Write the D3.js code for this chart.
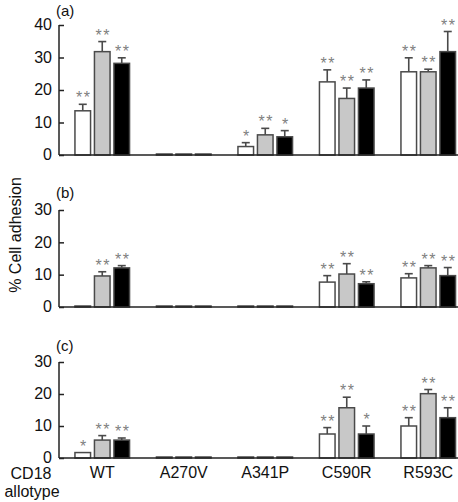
<!DOCTYPE html>
<html><head><meta charset="utf-8">
<script src="https://cdn.jsdelivr.net/npm/d3@7"></script>
<style>body{margin:0;background:#fff}svg{display:block}text{font-family:"Liberation Sans",Arial,sans-serif}</style>
</head><body>
<svg id="c" width="458" height="502"></svg>
<script>
const categories = ["WT","A270V","A341P","C590R","R593C"];
const seriesNames = ["white","grey","black"];

// Panel (a)
const aWhite = [13.6, 0, 2.6, 22.5, 25.6];
const aWhiteErr = [2.0, 0, 1.2, 3.7, 4.3];
const aGrey = [31.8, 0, 6.2, 17.4, 25.6];
const aGreyErr = [3.1, 0, 2.0, 3.2, 0.8];
const aBlack = [28.2, 0, 5.6, 20.6, 31.8];
const aBlackErr = [1.7, 0, 1.9, 2.5, 6.2];
const aStars = [["**","**","**"],["","",""],["*","**","*"],["**","**","**"],["**","**","**"]];
const aTicks = [0,10,20,30,40];

// Panel (b)
const bWhite = [0, 0, 0, 7.7, 9.0];
const bWhiteErr = [0, 0, 0, 2.0, 1.3];
const bGrey = [9.6, 0, 0, 10.2, 12.1];
const bGreyErr = [1.3, 0, 0, 3.2, 0.7];
const bBlack = [12.1, 0, 0, 7.2, 9.7];
const bBlackErr = [0.7, 0, 0, 0.6, 2.5];
const bStars = [["","**","**"],["","",""],["","",""],["**","**","**"],["**","**","**"]];
const bTicks = [0,10,20,30];

// Panel (c)
const cWhite = [1.7, 0, 0, 7.5, 10.0];
const cWhiteErr = [0, 0, 0, 2.0, 2.6];
const cGrey = [5.6, 0, 0, 15.7, 20.1];
const cGreyErr = [1.4, 0, 0, 3.3, 1.3];
const cBlack = [5.6, 0, 0, 7.5, 12.6];
const cBlackErr = [0.65, 0, 0, 2.5, 3.1];
const cStars = [["*","**","**"],["","",""],["","",""],["**","**","*"],["**","**","**"]];
const cTicks = [0,10,20,30];

const fills = {white:"#ffffff", grey:"#c8c8c8", black:"#000000"};

const svg = d3.select("#c");
const axisX = 59;

const x0 = d3.scaleBand().domain(categories).range([61.5, 469]).padding(0);
const x1 = d3.scaleBand().domain(seriesNames).range([-29.25, 29.25]).paddingInner(0.2).paddingOuter(0.1);

const panels = [
  {label:"(a)", max:40, top:25, bottom:155, ticks:aTicks, labelY:16,
   vals:[aWhite,aGrey,aBlack], errs:[aWhiteErr,aGreyErr,aBlackErr], stars:aStars},
  {label:"(b)", max:30, top:210, bottom:307, ticks:bTicks, labelY:198,
   vals:[bWhite,bGrey,bBlack], errs:[bWhiteErr,bGreyErr,bBlackErr], stars:bStars},
  {label:"(c)", max:30, top:362, bottom:458, ticks:cTicks, labelY:351,
   vals:[cWhite,cGrey,cBlack], errs:[cWhiteErr,cGreyErr,cBlackErr], stars:cStars}
];

panels.forEach(p => {
  const y = d3.scaleLinear().domain([0, p.max]).range([p.bottom, p.top]);
  const g = svg.append("g");

  const data = [];
  categories.forEach((cat, i) => {
    seriesNames.forEach((s, j) => {
      data.push({cat, s, v:p.vals[j][i], e:p.errs[j][i], star:p.stars[i][j]});
    });
  });

  data.filter(d => d.e > 0).forEach(d => {
    const cx = x0(d.cat) + x0.bandwidth()/2 + x1(d.s) + x1.bandwidth()/2;
    g.append("line").attr("x1",cx).attr("x2",cx).attr("y1",y(d.v)).attr("y2",y(d.v+d.e))
      .attr("stroke","#4a4a4a").attr("stroke-width",1.6);
    g.append("line").attr("x1",cx-4).attr("x2",cx+4).attr("y1",y(d.v+d.e)).attr("y2",y(d.v+d.e))
      .attr("stroke","#4a4a4a").attr("stroke-width",1.6);
  });

  g.selectAll("rect.bar").data(data).join("rect")
    .attr("class","bar")
    .attr("x", d => x0(d.cat) + x0.bandwidth()/2 + x1(d.s))
    .attr("width", x1.bandwidth())
    .attr("y", d => y(d.v) - (d.v === 0 ? 1 : 0))
    .attr("height", d => d.v === 0 ? 1 : y(0) - y(d.v))
    .attr("fill", d => fills[d.s])
    .attr("stroke", "#4a4a4a")
    .attr("stroke-width", 1.5);

  g.selectAll("text.star").data(data.filter(d => d.star)).join("text")
    .attr("class","star")
    .attr("x", d => x0(d.cat) + x0.bandwidth()/2 + x1(d.s) + x1.bandwidth()/2 + 1)
    .attr("y", d => y(d.v + d.e) - 1)
    .attr("text-anchor","middle")
    .attr("font-size", 16)
    .attr("letter-spacing", 1.5)
    .attr("fill", "#808080")
    .text(d => d.star);

  const ya = g.append("g").attr("transform", `translate(${axisX},0)`)
    .call(d3.axisRight(y).tickValues(p.ticks).tickSize(5).tickFormat(d3.format("d")));
  ya.select(".domain").remove();
  ya.selectAll("line").attr("stroke","#222").attr("stroke-width",1.5);
  ya.selectAll("text").attr("x",-7).attr("text-anchor","end").attr("font-size",16).attr("fill","#111").attr("dy","0.3em");
  g.append("line").attr("x1",axisX).attr("x2",axisX).attr("y1",p.top).attr("y2",p.bottom)
    .attr("stroke","#222").attr("stroke-width",1.5);
  g.append("line").attr("x1",axisX).attr("x2",458).attr("y1",p.bottom).attr("y2",p.bottom)
    .attr("stroke","#222").attr("stroke-width",1.5);

  g.append("text").attr("x",56).attr("y",p.labelY).attr("font-size",15).attr("fill","#111").text(p.label);
});

const xa = svg.append("g").attr("transform","translate(0,458)")
  .call(d3.axisBottom(x0).tickSize(0).tickPadding(0));
xa.select(".domain").remove();
xa.selectAll("text").attr("font-size",16).attr("fill","#111").attr("dy",null).attr("y",20);

svg.append("text").attr("x",31).attr("y",479).attr("text-anchor","middle").attr("font-size",16).attr("fill","#111").text("CD18");
svg.append("text").attr("x",32).attr("y",497).attr("text-anchor","middle").attr("font-size",16).attr("fill","#111").text("allotype");

svg.append("text").attr("transform","translate(21,235) rotate(-90)").attr("text-anchor","middle")
  .attr("font-size",16).attr("fill","#111").text("% Cell adhesion");
</script>
</body></html>
